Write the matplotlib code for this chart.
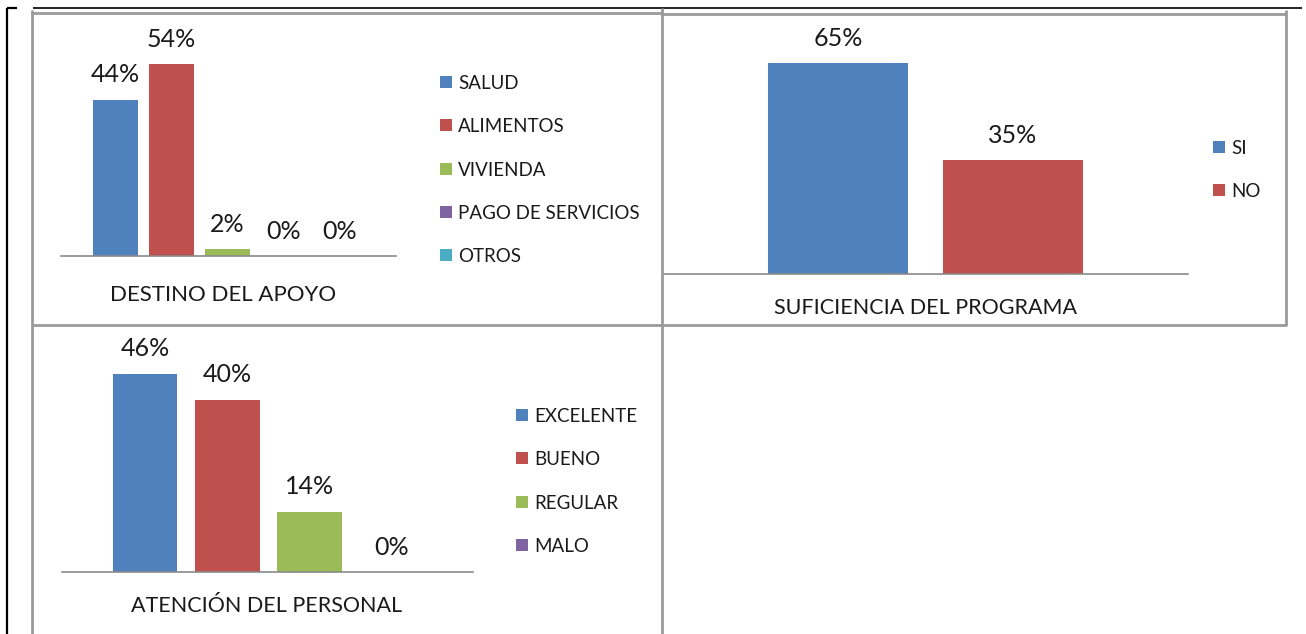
"""Tres graficas de barras en una tabla: destino, suficiencia y atencion."""
import numpy as np
import matplotlib
matplotlib.use('Agg')
import matplotlib.pyplot as plt
from matplotlib.lines import Line2D
from matplotlib.patches import Rectangle

plt.rcParams['font.family'] = ['Lato', 'DejaVu Sans']

# datos
destino_cats = ['SALUD', 'ALIMENTOS', 'VIVIENDA', 'PAGO DE SERVICIOS', 'OTROS']
destino_vals = [44, 54, 2, 0, 0]

suficiencia_cats = ['SI', 'NO']
suficiencia_vals = [65, 35]

atencion_cats = ['EXCELENTE', 'BUENO', 'REGULAR', 'MALO']
atencion_vals = [46, 40, 14, 0]

titles = ['DESTINO DEL APOYO', 'SUFICIENCIA DEL PROGRAMA', 'ATENCIÓN DEL PERSONAL']
colors = ['#4F81BD', '#C0504D', '#9BBB59', '#8064A2', '#4BACC6']
TXT = '#1a1a1a'

W, H = 1306, 634
fig = plt.figure(figsize=(W / 100, H / 100), dpi=100)


def fx(x):
    return x / W


def fy(y):
    return 1 - y / H


def line(x0, y0, x1, y1, color, lw):
    fig.add_artist(Line2D([fx(x0), fx(x1)], [fy(y0), fy(y1)], color=color,
                          lw=lw, solid_capstyle='butt'))


def bar_chart(box, vals, xlim, ymax, width):
    x0, x1, ytop, ybot = box
    ax = fig.add_axes([fx(x0), fy(ybot), (x1 - x0) / W, (ybot - ytop) / H])
    x = np.arange(len(vals))
    ax.bar(x, vals, width=width, color=colors[:len(vals)])
    ax.set_xlim(*xlim)
    ax.set_ylim(0, ymax)
    for xi, v in zip(x, vals):
        ax.annotate(f'{v}%', (xi, v), xytext=(0, 12.5), textcoords='offset points',
                    ha='center', va='baseline', fontsize=18, color=TXT,
                    annotation_clip=False)
    for s in ['top', 'left', 'right']:
        ax.spines[s].set_visible(False)
    ax.spines['bottom'].set_color('#8a8a8a')
    ax.spines['bottom'].set_linewidth(1.2)
    ax.set_xticks([])
    ax.set_yticks([])
    ax.patch.set_alpha(0)
    return ax


def legend(cats, x, y0, step=43.3):
    for i, c in enumerate(cats):
        y = y0 + i * step
        fig.add_artist(Rectangle((fx(x), fy(y + 6)), 12 / W, 12 / H,
                                 color=colors[i], lw=0))
        fig.text(fx(x + 18), fy(y + 7), c, fontsize=13.5, color=TXT,
                 ha='left', va='baseline')


# marco de la tabla
gray = '#9a9a9a'
line(7, 8, 7, 634, 'black', 1.6)
line(7, 8, 17, 8, 'black', 1.6)
line(33, 8, 1302, 8, 'black', 1.2)
line(32, 10, 32, 634, gray, 2.0)
line(32, 13, 662, 13, gray, 2.0)
line(662, 14, 1286, 14, gray, 2.0)
line(662, 8, 662, 634, gray, 2.0)
line(1286, 10, 1286, 326, gray, 2.0)
line(32, 325, 1286, 325, gray, 2.0)

# graficas
bar_chart((61, 396, 20, 256), destino_vals, (-0.97, 5.0), 236 / 3.555, 0.8)
bar_chart((663, 1188, 20, 274), suficiencia_vals, (-1.0, 2.0), 254 / 3.245, 0.796)
bar_chart((62, 473, 335, 572), atencion_vals, (-1.01, 3.99), 237 / 4.31, 0.79)

fig.text(fx(223), fy(301.5), titles[0], fontsize=16, color=TXT, ha='center', va='baseline')
fig.text(fx(925), fy(314.5), titles[1], fontsize=15.5, color=TXT, ha='center', va='baseline')
fig.text(fx(267), fy(612.5), titles[2], fontsize=15.5, color=TXT, ha='center', va='baseline')

legend(destino_cats, 440, 82)
legend(suficiencia_cats, 1213, 147)
legend(atencion_cats, 516, 415)

fig.savefig('out.png', dpi=100, facecolor='white')
